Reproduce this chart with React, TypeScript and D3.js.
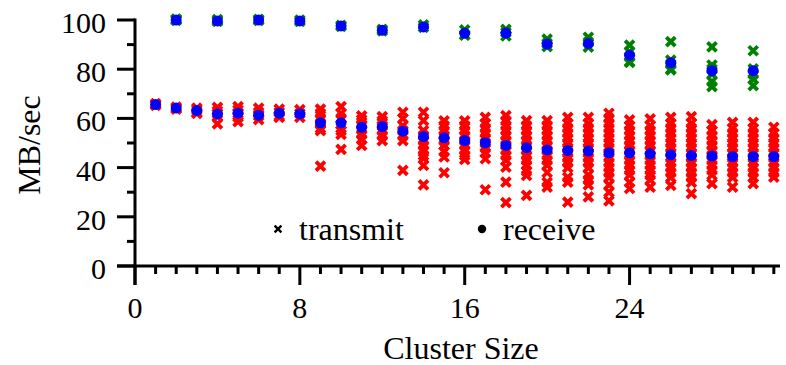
import React from "react";
import * as d3 from "d3";

// throughput per cluster size: crosses are single runs, blue dots the mean

const lowSizes = [1, 2, 3, 4, 5, 6, 7, 8, 9, 10, 11, 12, 13, 14, 15, 16, 17, 18, 19, 20, 21, 22, 23, 24, 25, 26, 27, 28, 29, 30, 31];
const lowRuns: number[][] = [
  [66, 65.6, 65.3],
  [64.6, 64.2, 63.8],
  [64.2, 63.5, 62.5, 62],
  [64.5, 63, 62, 60.8, 57.8],
  [64.8, 63.5, 62, 60.5, 58.7],
  [64.2, 62.5, 61, 59.5],
  [63.8, 62.5, 61, 60.4],
  [63.6, 62, 60.4],
  [63.8, 62, 60, 58, 56, 55, 40.6],
  [64.8, 62, 60, 57.5, 55, 53.5, 47.4],
  [61, 59.5, 57.5, 55.5, 53.5, 51.5, 49],
  [60.7, 59, 57, 55, 53, 51],
  [62.5, 60, 57, 55, 53, 51, 38.9],
  [62.5, 59.1, 55, 53, 51, 49, 47, 45, 43.7, 40.9, 33],
  [59, 57, 55, 53, 51, 49, 46.5, 44.3, 37.9],
  [59, 57, 55, 53, 51, 49, 47, 45, 43.3],
  [60.4, 58, 56, 54, 52, 50, 48, 46, 43.6, 31],
  [61.1, 59, 57, 55, 53, 51, 49, 47, 45, 43, 40.2, 34.1, 25.8],
  [59.1, 57, 55, 53, 51, 49, 47, 45, 43, 41, 38.6, 36.8, 28.7],
  [59.1, 57, 55, 53, 51, 49, 47, 45, 43, 41, 38, 34, 32.1],
  [60.4, 58, 56, 54, 52, 50, 48, 46, 44, 42, 40, 36, 34.1, 26],
  [60.4, 58, 56, 54, 52, 50, 48, 46, 44, 42, 40, 37, 35, 33, 28.1],
  [62.1, 60, 58, 56, 54, 52, 50, 48, 46, 44, 42, 40, 38, 36, 33, 30, 26.5],
  [59.4, 57, 55, 53, 51, 49, 47, 45, 43, 41, 39, 37, 34, 31.5],
  [59.8, 57, 55, 53, 51, 49, 47, 45, 43, 41, 39, 37, 35, 32.1],
  [60.4, 58, 56, 54, 52, 50, 48, 46, 44, 42, 40, 38, 36, 32.8],
  [60.7, 58, 56, 54, 52, 50, 48, 46, 44, 42, 40, 38, 36, 34, 29.4],
  [57.5, 55, 53, 51, 49, 47, 45, 43, 41, 39, 37, 33.5],
  [58.4, 56, 54, 52, 50, 48, 46, 44, 42, 40, 38, 36, 32.1],
  [58.4, 56, 54, 52, 50, 48, 46, 44, 42, 40, 38, 36, 33.5],
  [56.4, 54, 52, 50, 48, 46, 44, 42, 40, 38, 36.1],
];
const lowMeans = [65.6, 64.2, 63.2, 61.8, 62.1, 61.3, 62.1, 61.8, 58.2, 58.2, 56.4, 56.7, 54.8, 52.6, 52.1, 51.0, 50.1, 49.0, 48.1, 47.2, 47.0, 46.7, 46.0, 46.0, 45.6, 45.2, 44.9, 44.7, 44.5, 44.5, 44.5];

const highSizes = [2, 4, 6, 8, 10, 12, 14, 16, 18, 20, 22, 24, 26, 28, 30];
const highRuns: number[][] = [
  [100.4, 100, 99.8, 100.2],
  [100.2, 99.4, 99.8],
  [100.3, 100, 99.8],
  [100, 99.4],
  [97.8, 97.4],
  [96.2, 95.6],
  [98, 97],
  [96, 94, 93.8],
  [96.2, 95, 93.5],
  [92.2, 90.5, 89.2],
  [93, 91, 89],
  [89.8, 87, 85, 83, 82.8],
  [91.2, 83.7, 82, 80, 79.7],
  [89.1, 81.7, 80, 78, 75, 72.9],
  [87.5, 80.1, 78, 76, 73.3],
];
const highMeans = [100, 99.6, 100, 99.6, 97.6, 95.8, 97.2, 94.6, 94.7, 90.2, 90.4, 85.7, 82.6, 79.4, 79.4];

const xMajor = [0, 8, 16, 24];
const xMinor = [1, 2, 3, 4, 5, 6, 7, 9, 10, 11, 12, 13, 14, 15, 17, 18, 19, 20, 21, 22, 23, 25, 26, 27, 28, 29, 30, 31];
const yMajor = [0, 20, 40, 60, 80, 100];
const yMinor = [10, 30, 50, 70, 90];

const W = 786;
const H = 365;
const font = "'Liberation Serif', 'Times New Roman', serif";

const x = d3.scaleLinear().domain([0, 31.3]).range([135, 780]);
const y = d3.scaleLinear().domain([0, 100]).range([266, 20]);

function Cross({ cx, cy, r, color, w }: { cx: number; cy: number; r: number; color: string; w: number }) {
  return (
    <path
      d={`M${cx - r},${cy - r}L${cx + r},${cy + r}M${cx - r},${cy + r}L${cx + r},${cy - r}`}
      stroke={color}
      strokeWidth={w}
      fill="none"
    />
  );
}

export default function App() {
  return (
    <svg width={W} height={H} style={{ position: "absolute", left: 0, top: 0, background: "#fff" }} fontFamily={font}>
      {/* runs */}
      {lowSizes.map((s, i) =>
        lowRuns[i].map((v, j) => <Cross key={`l${i}-${j}`} cx={x(s)} cy={y(v)} r={4.5} color="#ff0000" w={3.8} />)
      )}
      {highSizes.map((s, i) =>
        highRuns[i].map((v, j) => <Cross key={`h${i}-${j}`} cx={x(s)} cy={y(v)} r={4.5} color="#008000" w={3.8} />)
      )}
      {/* means */}
      {lowSizes.map((s, i) => (
        <circle key={`lm${i}`} cx={x(s)} cy={y(lowMeans[i])} r={5.5} fill="#0000ff" />
      ))}
      {highSizes.map((s, i) => (
        <circle key={`hm${i}`} cx={x(s)} cy={y(highMeans[i])} r={5.5} fill="#0000ff" />
      ))}

      {/* y axis */}
      <line x1={x(0)} x2={x(0)} y1={y(100) - 1.5} y2={285} stroke="#000" strokeWidth={3} />
      {yMajor.map((t) => (
        <g key={`ym${t}`}>
          <line x1={117} x2={x(0)} y1={y(t)} y2={y(t)} stroke="#000" strokeWidth={3} />
          <text x={106} y={y(t) + 13} fontSize={30} textAnchor="end">{t}</text>
        </g>
      ))}
      {yMinor.map((t) => (
        <line key={`yn${t}`} x1={127} x2={x(0)} y1={y(t)} y2={y(t)} stroke="#000" strokeWidth={3} />
      ))}

      {/* x axis */}
      <line x1={117} x2={780} y1={y(0)} y2={y(0)} stroke="#000" strokeWidth={3} />
      {xMajor.map((t) => (
        <g key={`xm${t}`}>
          <line x1={x(t)} x2={x(t)} y1={y(0)} y2={285} stroke="#000" strokeWidth={3} />
          <text x={x(t)} y={318} fontSize={30} textAnchor="middle">{t}</text>
        </g>
      ))}
      {xMinor.map((t) => (
        <line key={`xn${t}`} x1={x(t)} x2={x(t)} y1={y(0)} y2={274} stroke="#000" strokeWidth={3} />
      ))}

      <text x={461} y={359} fontSize={32} textAnchor="middle">Cluster Size</text>
      <text transform="translate(40,145) rotate(-90)" fontSize={32} textAnchor="middle">MB/sec</text>

      {/* legend */}
      <Cross cx={278} cy={229} r={3.4} color="#000" w={2.4} />
      <text x={299} y={240} fontSize={32}>transmit</text>
      <circle cx={482} cy={229} r={4.2} fill="#000" />
      <text x={503} y={240} fontSize={32}>receive</text>
    </svg>
  );
}
